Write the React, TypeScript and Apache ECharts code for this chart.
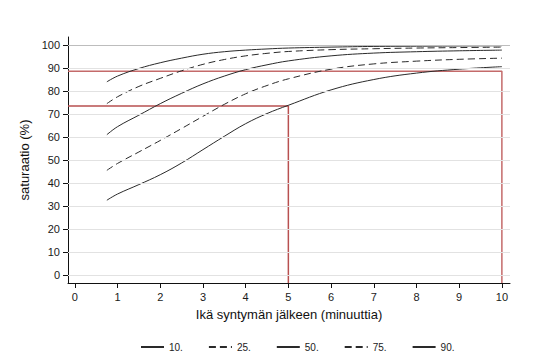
import React, { useEffect, useRef } from "react";
import * as echarts from "echarts";

const times = [0.75, 1, 1.5, 2, 2.5, 3, 3.5, 4, 4.5, 5, 6, 7, 8, 9, 10];
const p10 = [32.5, 35.2, 39.3, 43.6, 48.7, 54.5, 60.3, 65.8, 70.2, 73.8, 80.5, 85, 87.8, 89.5, 90.6];
const p25 = [45.5, 48.5, 53.5, 58.5, 63.7, 69, 74.2, 78.8, 82.4, 85.3, 89.5, 91.8, 93, 93.8, 94.3];
const p50 = [61, 64.5, 69.5, 74.5, 79, 83.1, 86.5, 89.3, 91.4, 93.1, 95.3, 96.5, 97.1, 97.5, 97.8];
const p75 = [74.5, 77.5, 82, 85.5, 88.8, 91.6, 93.7, 95.3, 96.4, 97.2, 98, 98.4, 98.7, 98.9, 99.1];
const p90 = [84, 86.5, 89.8, 92.3, 94.3, 96, 97.1, 97.8, 98.3, 98.7, 99.1, 99.4, 99.5, 99.6, 99.7];

const seriesNames = ["10.", "25.", "50.", "75.", "90."];
const seriesDashed = [false, true, false, true, false];

const xTicks = [0, 1, 2, 3, 4, 5, 6, 7, 8, 9, 10];
const yTicks = [0, 10, 20, 30, 40, 50, 60, 70, 80, 90, 100];

const refTimes = [5, 10];
const refValues = [73.5, 88.6];

const X_MIN = -0.16;
const X_MAX = 10.19;
const Y_MIN = -3.5;
const Y_MAX = 103.5;

export default function App() {
  const ref = useRef<HTMLDivElement>(null);
  useEffect(() => {
    if (!ref.current) return;
    const chart = echarts.init(ref.current, null, { renderer: "svg" });
    const font = "'Liberation Sans', Arial, sans-serif";
    const allSeries = [p10, p25, p50, p75, p90];
    const curveSeries = allSeries.map((vals, i) => ({
      name: seriesNames[i],
      type: "line",
      data: times.map((t, j) => [t, vals[j]]),
      showSymbol: false,
      symbol: "none",
      smooth: 0.4,
      lineStyle: {
        color: "#2a2a2a",
        width: 1,
        type: seriesDashed[i] ? [7, 4] : "solid",
      },
      itemStyle: { color: "#2a2a2a" },
      z: 3,
    }));
    const refSeries = refTimes.map((t, i) => ({
      name: "ref" + i,
      type: "line",
      data: [
        [X_MIN, refValues[i]],
        [t, refValues[i]],
        [t, Y_MIN],
      ],
      showSymbol: false,
      symbol: "none",
      lineStyle: { color: i === 0 ? "#b85050" : "#c46a6a", width: 1.5 },
      z: 2,
      silent: true,
    }));
    const gridSeries = {
      name: "grid",
      type: "line",
      data: [],
      markLine: {
        silent: true,
        symbol: "none",
        label: { show: false },
        data: yTicks.map((v) => ({
          yAxis: v,
          lineStyle: { color: v === 100 ? "#bdbdbd" : "#e2e2e2", width: 1, type: "solid" },
        })),
      },
      z: 1,
    };
    chart.setOption({
      animation: false,
      textStyle: { fontFamily: font },
      grid: { left: 68, right: 27, top: 37, bottom: 79, containLabel: false },
      legend: {
        data: seriesNames,
        left: 135,
        top: 337,
        itemWidth: 23,
        itemHeight: 10,
        itemGap: 25,
        itemStyle: { opacity: 0, borderWidth: 0 },
        textStyle: { fontSize: 10, color: "#222", fontFamily: font },
      },
      xAxis: {
        type: "value",
        min: X_MIN,
        max: X_MAX,
        name: "Ikä syntymän jälkeen (minuuttia)",
        nameLocation: "middle",
        nameGap: 25,
        nameTextStyle: { fontSize: 13, color: "#111", fontFamily: font },
        axisLine: { show: true, onZero: false, lineStyle: { color: "#111", width: 1 } },
        axisTick: { show: true, length: 5, customValues: xTicks, lineStyle: { color: "#111" } },
        axisLabel: { customValues: xTicks, margin: 8, fontSize: 11, color: "#1a1a1a", fontFamily: font },
        splitLine: { show: false },
      },
      yAxis: {
        type: "value",
        min: Y_MIN,
        max: Y_MAX,
        name: "saturaatio (%)",
        nameLocation: "middle",
        nameGap: 29,
        nameTextStyle: { fontSize: 13, color: "#111", fontFamily: font },
        axisLine: { show: true, onZero: false, lineStyle: { color: "#111", width: 1 } },
        axisTick: { show: true, length: 5, customValues: yTicks, lineStyle: { color: "#111" } },
        axisLabel: { customValues: yTicks, margin: 8, fontSize: 11, color: "#1a1a1a", fontFamily: font },
        splitLine: { show: false },
      },
      series: [gridSeries, ...refSeries, ...curveSeries],
    });
    return () => chart.dispose();
  }, []);
  return <div ref={ref} style={{ width: 537, height: 362, position: "absolute", left: 0, top: 0, background: "#fff" }} />;
}
